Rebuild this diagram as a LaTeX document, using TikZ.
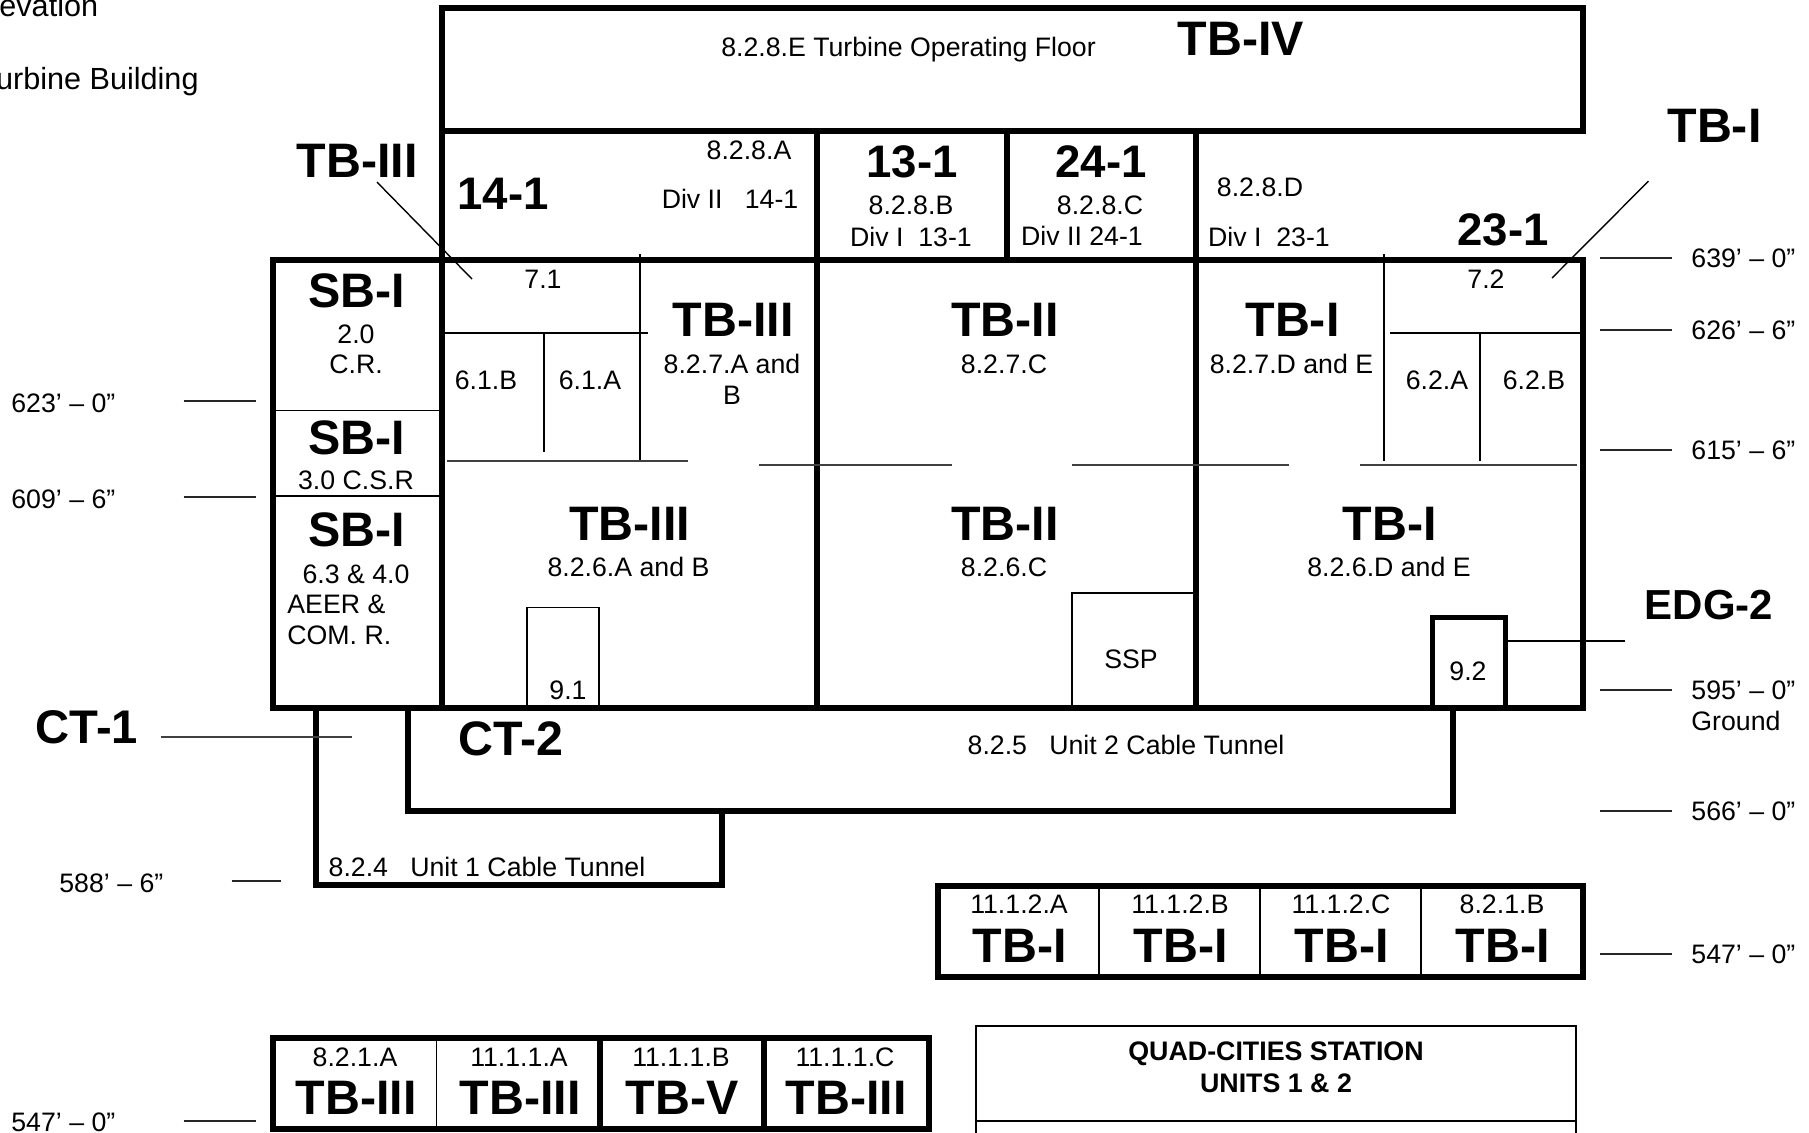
\documentclass[tikz,border=0pt]{standalone}
\usepackage{fontspec}
\setmainfont{Liberation Sans}
\usepackage{xcolor}

\begin{document}
\begin{tikzpicture}[x=0.5pt,y=-0.5pt,node distance=20.5pt,
	big node/.style={inner sep=0pt,font=\fontsize{24.2}{24}\selectfont\bfseries,text height=17.2pt,text depth=0pt,xshift=0.5pt},
	num node/.style={big node,font=\fontsize{22.8}{24}\selectfont\bfseries},
	edg node/.style={inner sep=0pt,font=\fontsize{21}{21}\selectfont\bfseries,text height=15pt,text depth=0pt},
	small node/.style={inner sep=0pt,font=\fontsize{13.35}{13.35}\selectfont,text height=9.6pt,text depth=0pt},
	left node/.style={small node,anchor=west},
	title node/.style={small node,font=\fontsize{13.4}{13.4}\selectfont\bfseries},
	wall/.style={line width=3pt},
	thin wall/.style={line width=0.8pt},
	cut line/.style={line width=1pt,black!75},
	level line/.style={line width=0.8pt,black!85},
	lead line/.style={line width=0.7pt}]
	\path [use as bounding box,clip] (0,0) rectangle (1809,1132);
	%building outline and floors
	\draw [wall] (442,8) rectangle (1583,131);
	\draw [wall] (273,259.5) rectangle (1583,708);
	\draw [wall] (442,131) -- (442,708);
	\draw [wall] (817,131) -- (817,708);
	\draw [wall] (1007,131) -- (1007,259.5);
	\draw [wall] (1196,131) -- (1196,708);
	%cable tunnels
	\draw [wall] (316,708) -- (316,885) -- (721.5,885) -- (721.5,811);
	\draw [wall] (408,708) -- (408,811) -- (1453,811) -- (1453,708);
	%rooms
	\draw [thin wall] (273,410.5) -- (442,410.5);
	\draw [thin wall] (273,496) -- (442,496);
	\draw [thin wall] (442,333) -- (648,333);
	\draw [thin wall] (544,332) -- (544,452);
	\draw [thin wall] (640,254) -- (640,461);
	\draw [thin wall] (1390,333) -- (1583,333);
	\draw [thin wall] (1384,254) -- (1384,461);
	\draw [thin wall] (1480,332) -- (1480,461);
	\draw [cut line] (447,460.5) -- (688,460.5);
	\draw [cut line] (759,465) -- (952,465);
	\draw [cut line] (1072,465) -- (1289,465);
	\draw [cut line] (1360,465) -- (1577,465);
	\draw [thin wall] (527,708) -- (527,607.5) -- (599,607.5) -- (599,708);
	\draw [thin wall] (1072,708) -- (1072,593) -- (1196,593);
	\node [draw,line width=2.5pt,minimum width=36.5pt,minimum height=45.5pt,inner sep=0pt] (EDGbox) at (1468.5,662.5) {};
	%lower rows
	\draw [wall] (938,885.5) rectangle (1583,977);
	\draw [thin wall] (1099,885.5) -- (1099,977);
	\draw [thin wall] (1260,885.5) -- (1260,977);
	\draw [thin wall] (1421,885.5) -- (1421,977);
	\draw [wall] (273,1038) rectangle (928.5,1129);
	\draw [line width=0.5pt] (436,1038) -- (436,1129);
	\draw [wall] (600,1038) -- (600,1129);
	\draw [wall] (764,1038) -- (764,1129);
	\draw [thin wall] (976,1140) -- (976,1026) -- (1576,1026) -- (1576,1140);
	\draw [thin wall] (976,1121) -- (1576,1121);

	\node [small node] (floorE) at (908.5,47) {8.2.8.E Turbine Operating Floor};
	\node [big node] (TBIV) at (1240,38.5) {TB-IV};
	\node [big node] (leadIII) at (356,160.5) {TB-III};
	\node [big node] (leadI) at (1713.5,125.5) {TB-I};
	\node [num node] (r141) at (502,192) {14-1};
	\node [small node] (floorA) at (749,150) {8.2.8.A};
	\node [small node] (divA) at (730,199) {Div II\ \ \ 14-1};
	\node [num node] (r131) at (911,160) {13-1};
	\node [small node] (floorB) at (911,204.5) {8.2.8.B};
	\node [small node] (divB) at (911,236.5) {Div I\ \ 13-1};
	\node [num node] (r241) at (1100,160) {24-1};
	\node [small node] (floorC) at (1100,205) {8.2.8.C};
	\node [small node] (divC) at (1082,235.5) {Div II 24-1};
	\node [small node] (floorD) at (1260,187) {8.2.8.D};
	\node [small node] (divD) at (1269,237) {Div I\ \ 23-1};
	\node [num node] (r231) at (1502,228.5) {23-1};
	\node [small node] (b71) at (543,278.5) {7.1};
	\node [small node] (b72) at (1486,278.5) {7.2};

	\node [big node] (SBa) at (356,290) {SB-I};
	\node [small node] (SBa1) at (356,334) {2.0};
	\node [small node] (SBa2) at (356,364) {C.R.};
	\node [big node] (SBb) at (356,437) {SB-I};
	\node [small node] (SBb1) at (356,480) {3.0 C.S.R};
	\node [big node] (SBc) at (356,529) {SB-I};
	\node [small node] (SBc1) at (356,573.5) {6.3 \& 4.0};
	\node [left node] (SBc2) at (287,604) {AEER \&};
	\node [left node] (SBc3) at (287,635) {COM. R.};

	\node [big node] (TBc7) at (732,319.5) {TB-III};
	\node [small node] (TBc7a) at (732,364) {8.2.7.A and};
	\node [small node] (TBc7b) at (732,394.5) {B};
	\node [small node] (r61B) at (486,379.5) {6.1.B};
	\node [small node] (r61A) at (590,379.5) {6.1.A};
	\node [big node] (TBb7) at (1004,319.5) {TB-II};
	\node [small node] (TBb7a) at (1004,364) {8.2.7.C};
	\node [big node] (TBa7) at (1291.5,319.5) {TB-I};
	\node [small node] (TBa7a) at (1291.5,364) {8.2.7.D and E};
	\node [small node] (r62A) at (1437,380) {6.2.A};
	\node [small node] (r62B) at (1534,380) {6.2.B};

	\node [big node] (TBc6) at (628.5,523) {TB-III};
	\node [small node] (TBc6a) at (628.5,567) {8.2.6.A and B};
	\node [big node] (TBb6) at (1004,523) {TB-II};
	\node [small node] (TBb6a) at (1004,567) {8.2.6.C};
	\node [big node] (TBa6) at (1389,523) {TB-I};
	\node [small node] (TBa6a) at (1389,567) {8.2.6.D and E};
	\node [small node] (b91) at (568,690) {9.1};
	\node [small node] (SSP) at (1131,658.5) {SSP};
	\node [small node] (b92) at (1468,670.5) {9.2};
	\node [edg node] (EDG) at (1709,604.5) {EDG-2};
	\node [big node,font=\fontsize{23.6}{24}\selectfont\bfseries] (CTa) at (86,726) {CT-1};
	\node [big node] (CTb) at (510,738) {CT-2};
	\node [small node] (CTb1) at (1126,745) {8.2.5\ \ \ Unit 2 Cable Tunnel};
	\node [small node] (CTa1) at (487,866.5) {8.2.4\ \ \ Unit 1 Cable Tunnel};

	\node [small node] (A1) at (1019,904) {11.1.2.A};
	\node [small node,node distance=80.5pt] (A2) [right of = A1] {11.1.2.B};
	\node [small node,node distance=80.5pt] (A3) [right of = A2] {11.1.2.C};
	\node [small node,node distance=80.5pt] (A4) [right of = A3] {8.2.1.B};
	\node [big node] (A1T) [below of = A1] {TB-I};
	\node [big node] (A2T) [below of = A2] {TB-I};
	\node [big node] (A3T) [below of = A3] {TB-I};
	\node [big node] (A4T) [below of = A4] {TB-I};
	\node [small node] (B1) at (355,1056.5) {8.2.1.A};
	\node [small node,node distance=82pt] (B2) [right of = B1] {11.1.1.A};
	\node [small node,node distance=81pt] (B3) [right of = B2] {11.1.1.B};
	\node [small node,node distance=82pt] (B4) [right of = B3] {11.1.1.C};
	\node [big node] (B1T) [below of = B1] {TB-III};
	\node [big node] (B2T) [below of = B2] {TB-III};
	\node [big node] (B3T) [below of = B3] {TB-V};
	\node [big node] (B4T) [below of = B4] {TB-III};
	\node [title node] (station) at (1276,1051) {QUAD-CITIES STATION};
	\node [title node] (units) at (1276,1083) {UNITS 1 \& 2};

	\node [small node,anchor=east,font=\fontsize{15.3}{15.3}\selectfont] (hdrA) at (98.5,7) {evation};
	\node [small node,anchor=east,font=\fontsize{15.3}{15.3}\selectfont] (hdrB) at (199,80) {urbine Building};

	\node [left node] (L639) at (1691,258) {639’ – 0”};
	\node [left node] (L626) at (1691,330) {626’ – 6”};
	\node [left node] (L615) at (1691,450) {615’ – 6”};
	\node [left node] (L595) at (1691,690) {595’ – 0”};
	\node [left node] (Lgnd) at (1691,721) {Ground};
	\node [left node] (L566) at (1691,811) {566’ – 0”};
	\node [left node] (R547) at (1691,954) {547’ – 0”};
	\node [left node] (L623) at (11,403) {623’ – 0”};
	\node [left node] (L609) at (11,499) {609’ – 6”};
	\node [left node] (L588) at (59,883) {588’ – 6”};
	\node [left node] (L547) at (11,1122) {547’ – 0”};

	\coordinate (end71) at (472,279);
	\coordinate (end72) at (1552,278);
	\coordinate (endCT) at (352,737);
	\coordinate (endEDG) at (1625,641);

	\draw [lead line] ([xshift=10pt,yshift=-2pt]leadIII.south) -- (end71);
	\draw [lead line] ([xshift=-33pt,yshift=-19pt]leadI.south) -- (end72);
	\draw [cut line] ([xshift=11pt,yshift=-5.5pt]CTa.east) -- (endCT);
	\draw [lead line] (EDGbox.east |- endEDG) -- (endEDG);

	\draw [level line] ([xshift=-9.5pt]L639.west) --++(-72,0);
	\draw [level line] ([xshift=-9.5pt]L626.west) --++(-72,0);
	\draw [level line] ([xshift=-9.5pt]L615.west) --++(-72,0);
	\draw [level line] ([xshift=-9.5pt]L595.west) --++(-72,0);
	\draw [level line] ([xshift=-9.5pt]L566.west) --++(-72,0);
	\draw [level line] ([xshift=-9.5pt]R547.west) --++(-72,0);
	\draw [level line] ([xshift=34pt,yshift=1pt]L623.east) --++(72,0);
	\draw [level line] ([xshift=34pt,yshift=1pt]L609.east) --++(72,0);
	\draw [level line] ([xshift=34pt,yshift=1pt]L588.east) --++(49,0);
	\draw [level line] ([xshift=34pt,yshift=0.5pt]L547.east) --++(72,0);
\end{tikzpicture}
\end{document}
